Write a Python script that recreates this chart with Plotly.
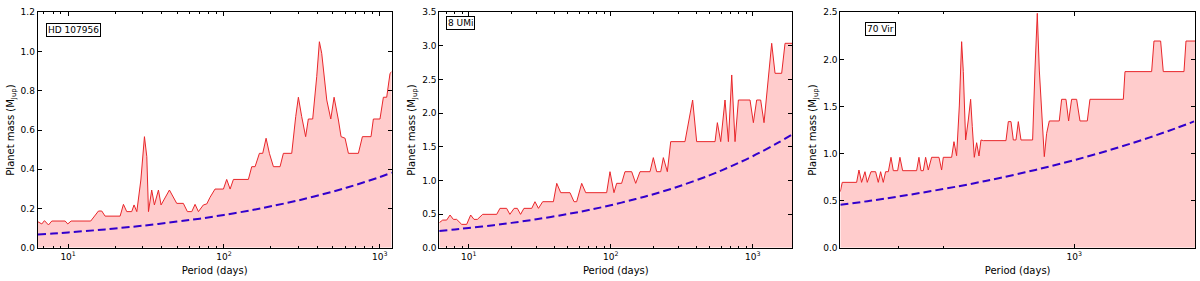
import plotly.graph_objects as go
import math

# ---------------- data ----------------
stars = ["HD 107956", "8 UMi", "70 Vir"]

# Panel 1: HD 107956 -- upper mass limit (red) vs period
p1_period = [6.38, 6.78, 7.05, 7.48, 7.86, 9.57, 9.95, 10.45, 13.97, 15.66, 16.44, 17.27, 21.57, 22.65,
             23.79, 25.6, 26.5, 27.6, 29.3, 30.9, 32.0, 32.8, 34.4, 35.8, 38.0, 39.5, 44.7, 49.8, 54.9,
             58.3, 62.2, 65.3, 68.6, 73.8, 77.6, 81.5, 87.7, 99.3, 104.2, 109.6, 115.1, 143.6, 150.9,
             158.5, 169.0, 177.5, 186.5, 195.9, 207.9, 229.3, 240.9, 272.5, 289.0, 300.6, 315.8, 334.7,
             348.3, 371.4, 394.2, 410.0, 424.4, 457.3, 485.2, 509.6, 543.3, 564.9, 599.4, 629.6, 729.8,
             774.3, 879.6, 910.5, 1004, 1056, 1109, 1165, 1194]
p1_mass = [0.133, 0.121, 0.138, 0.116, 0.136, 0.136, 0.121, 0.136, 0.136, 0.187, 0.187, 0.161, 0.161, 0.221,
           0.184, 0.184, 0.218, 0.184, 0.345, 0.566, 0.464, 0.184, 0.294, 0.218, 0.294, 0.218, 0.294, 0.226,
           0.226, 0.184, 0.184, 0.221, 0.184, 0.218, 0.223, 0.257, 0.299, 0.299, 0.348, 0.299, 0.348, 0.348,
           0.413, 0.413, 0.481, 0.481, 0.558, 0.481, 0.413, 0.413, 0.481, 0.481, 0.668, 0.767, 0.668, 0.566,
           0.656, 0.656, 0.872, 1.050, 0.991, 0.753, 0.656, 0.767, 0.651, 0.566, 0.558, 0.481, 0.481,
           0.566, 0.566, 0.656, 0.656, 0.767, 0.767, 0.889, 0.897]
# detection limit (blue dashed)
p1_lim_period = [6.4, 8, 10, 15, 20, 30, 50, 70, 100, 150, 200, 300, 500, 700, 1000, 1200]
p1_lim_mass = [0.067, 0.072, 0.078, 0.089, 0.098, 0.112, 0.133, 0.148, 0.167, 0.191, 0.211, 0.241,
               0.286, 0.320, 0.360, 0.383]

# Panel 2: 8 UMi
p2_period = [6.21, 6.56, 7.0, 7.39, 7.80, 8.23, 8.93, 9.68, 10.33, 10.9, 11.51, 12.55, 15.76, 16.6, 18.5,
             19.5, 20.9, 22.0, 23.2, 24.5, 27.8, 29.3, 31.0, 33.2, 39.5, 41.7, 44.5, 51.7, 55.2, 57.6,
             62.5, 66.7, 93.7, 98.9, 105.5, 110.2, 119.4, 126.1, 140.6, 150.0, 160.9, 189.2, 199.7, 210.9,
             225.0, 234.9, 250.6, 264.7, 333.6, 377.7, 403.2, 543.3, 564.0, 595.4, 638.4, 674.5, 711.8,
             751.2, 793.2, 957.7, 1011, 1067, 1138, 1202, 1361, 1437, 1600, 1690, 1901]
p2_mass = [0.372, 0.411, 0.411, 0.486, 0.421, 0.421, 0.347, 0.347, 0.486, 0.421, 0.421, 0.496, 0.496, 0.585,
           0.585, 0.496, 0.585, 0.585, 0.496, 0.585, 0.585, 0.684, 0.585, 0.684, 0.684, 0.957, 0.818, 0.818,
           0.684, 0.684, 0.957, 0.818, 0.818, 1.130, 0.818, 0.957, 0.957, 1.130, 1.130, 0.957, 1.130, 1.130,
           1.339, 1.130, 1.130, 1.339, 1.130, 1.577, 1.577, 2.196, 1.577, 1.577, 1.859, 1.577, 2.196, 1.577,
           2.568, 1.577, 2.196, 2.196, 1.859, 2.196, 2.196, 1.859, 3.039, 2.593, 2.593, 3.039, 3.039]
p2_lim_period = [6.2, 8, 10, 15, 20, 30, 50, 70, 100, 150, 200, 300, 500, 700, 1000, 1500, 1900]
p2_lim_mass = [0.250, 0.272, 0.293, 0.335, 0.369, 0.423, 0.501, 0.560, 0.631, 0.723, 0.795, 0.910,
               1.079, 1.208, 1.360, 1.557, 1.684]

# Panel 3: 70 Vir
p3_period = [116.9, 119.0, 135.8, 138.7, 142.1, 146.6, 149.7, 154.9, 161.6, 165.6, 169.2, 173.4, 177.1,
             181.6, 186.1, 190.1, 197.8, 202.0, 207.1, 235.4, 240.5, 245.0, 250.3, 255.7, 262.0, 270.2,
             289.0, 296.1, 300.7, 324.6, 331.6, 339.8, 348.3, 355.8, 361.3, 369.1, 378.2, 386.4, 392.3,
             399.6, 408.3, 417.1, 424.9, 434.1, 534.4, 546.0, 559.5, 571.6, 585.7, 598.4, 613.2, 682.3,
             697.1, 712.2, 725.5, 741.2, 759.5, 776.0, 795.2, 871.3, 890.2, 926.4, 949.3, 975.9, 1021.6,
             1053.4, 1126.6, 1154.5, 1567.8, 1592.1, 2033, 2077, 2208, 2262, 2735, 2786, 3026]
p3_mass = [0.595, 0.694, 0.694, 0.825, 0.694, 0.807, 0.694, 0.807, 0.807, 0.694, 0.807, 0.694, 0.807,
           0.807, 0.960, 0.818, 0.818, 0.960, 0.818, 0.818, 0.960, 0.818, 0.818, 0.960, 0.825, 0.960,
           0.960, 0.825, 0.960, 0.960, 1.126, 0.977, 1.505, 2.188, 1.870, 1.144, 1.356, 1.576, 1.285,
           0.960, 1.115, 0.974, 1.144, 1.137, 1.137, 1.339, 1.339, 1.144, 1.144, 1.339, 1.144, 1.144,
           1.887, 2.489, 1.887, 1.392, 0.967, 1.215, 1.346, 1.346, 1.576, 1.576, 1.346, 1.576, 1.576,
           1.346, 1.346, 1.576, 1.576, 1.870, 1.870, 2.195, 2.195, 1.870, 1.870, 2.195, 2.195]
p3_lim_period = [117, 150, 200, 300, 400, 500, 700, 1000, 1500, 2000, 2500, 3000]
p3_lim_mass = [0.455, 0.494, 0.544, 0.623, 0.685, 0.738, 0.826, 0.930, 1.065, 1.172, 1.262, 1.341]

# axis settings per panel
x_ranges = [(6.38, 1194), (6.21, 1901), (116.9, 3026)]
y_ranges = [(0, 1.2), (0, 3.5), (0, 2.5)]
y_ticks = [[0, 0.2, 0.4, 0.6, 0.8, 1.0, 1.2],
           [0, 0.5, 1.0, 1.5, 2.0, 2.5, 3.0, 3.5],
           [0, 0.5, 1.0, 1.5, 2.0, 2.5]]
x_major = [[10, 100, 1000], [10, 100, 1000], [1000]]
x_major_text = [["10<sup>1</sup>", "10<sup>2</sup>", "10<sup>3</sup>"],
                ["10<sup>1</sup>", "10<sup>2</sup>", "10<sup>3</sup>"],
                ["10<sup>3</sup>"]]
x_minor = [[7, 8, 9, 20, 30, 40, 50, 60, 70, 80, 90, 200, 300, 400, 500, 600, 700, 800, 900],
           [7, 8, 9, 20, 30, 40, 50, 60, 70, 80, 90, 200, 300, 400, 500, 600, 700, 800, 900],
           [200, 300]]

# ---------------- figure ----------------
W, H = 1200, 281
x_dom_px = [(37.7, 391.7), (439.3, 792.3), (840.3, 1195)]
y_dom_px = (12.3, 247.7)
ydom = [1 - y_dom_px[1] / H, 1 - y_dom_px[0] / H]

series = [(p1_period, p1_mass, p1_lim_period, p1_lim_mass),
          (p2_period, p2_mass, p2_lim_period, p2_lim_mass),
          (p3_period, p3_mass, p3_lim_period, p3_lim_mass)]

fig = go.Figure()
FONT = "DejaVu Sans"

for i, (per, mass, lper, lmass) in enumerate(series):
    xa = "x" if i == 0 else f"x{i+1}"
    ya = "y" if i == 0 else f"y{i+1}"
    # detection limit first (under the translucent fill)
    fig.add_trace(go.Scatter(x=lper, y=lmass, mode="lines", xaxis=xa, yaxis=ya,
                             line=dict(color="#0000ff", width=2, dash="8px,4px", shape="spline"),
                             showlegend=False, hoverinfo="skip"))
    fig.add_trace(go.Scatter(x=per, y=mass, mode="lines", xaxis=xa, yaxis=ya,
                             fill="tozeroy", fillcolor="rgba(255,0,0,0.2)",
                             line=dict(color="#e8262a", width=1),
                             showlegend=False, hoverinfo="skip"))

    xkey = "xaxis" if i == 0 else f"xaxis{i+1}"
    ykey = "yaxis" if i == 0 else f"yaxis{i+1}"
    x0, x1 = x_dom_px[i]
    fig.layout[xkey] = dict(
        type="log", domain=[x0 / W, x1 / W], automargin=False,
        range=[math.log10(x_ranges[i][0]), math.log10(x_ranges[i][1])],
        anchor=ya, showline=True, linecolor="black", linewidth=1, mirror="ticks",
        ticks="inside", ticklen=4, tickwidth=1, tickcolor="black",
        tickmode="array", tickvals=x_major[i], ticktext=x_major_text[i],
        minor=dict(tickmode="array", tickvals=x_minor[i], ticks="inside", ticklen=2,
                   tickcolor="black", tickwidth=1, showgrid=False),
        showgrid=False, zeroline=False,
        tickfont=dict(family=FONT, size=9, color="black"),
        title=dict(text="Period (days)", font=dict(family=FONT, size=10, color="black"), standoff=6),
    )
    fig.layout[ykey] = dict(
        domain=ydom, range=list(y_ranges[i]), anchor=xa, automargin=False,
        showline=True, linecolor="black", linewidth=1, mirror="ticks",
        ticks="inside", ticklen=4, tickwidth=1, tickcolor="black",
        tickmode="array", tickvals=y_ticks[i], tickformat=".1f",
        showgrid=False, zeroline=False,
        tickfont=dict(family=FONT, size=9, color="black"),
        title=dict(text="Planet mass (M<sub>Jup</sub>)",
                   font=dict(family=FONT, size=10, color="black"), standoff=4),
    )

# star name labels (boxed)
label_pos_px = [(46, 23), (446, 16), (865, 22)]
for name, (lx, ly) in zip(stars, label_pos_px):
    fig.add_annotation(text=name, xref="paper", yref="paper", x=lx / W, y=1 - ly / H,
                       xanchor="left", yanchor="top", showarrow=False,
                       font=dict(family=FONT, size=9, color="black"),
                       bordercolor="black", borderwidth=1, borderpad=1, bgcolor="white")

fig.update_layout(width=W, height=H, margin=dict(l=0, r=0, t=0, b=0),
                  paper_bgcolor="white", plot_bgcolor="white", hovermode=False)

fig.write_html("out.html", config={"displayModeBar": False, "staticPlot": True},
               post_script="document.body.style.margin='0';document.body.style.overflow='hidden';")
